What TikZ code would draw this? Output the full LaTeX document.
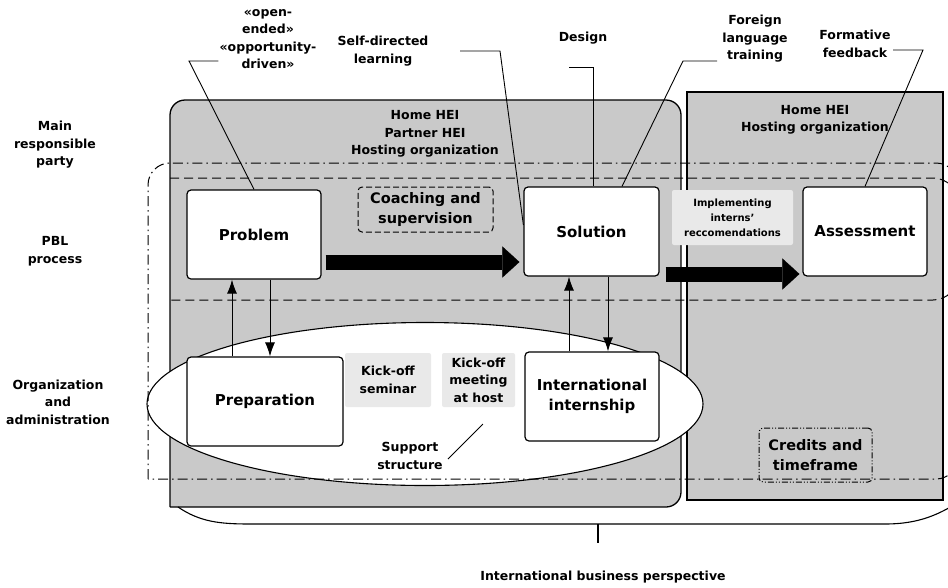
\documentclass[tikz,border=0pt]{standalone}
\usepackage{fontspec}
\setmainfont{DejaVu Sans}
\usetikzlibrary{positioning,calc,arrows.meta,shapes.geometric}
\definecolor{cPanel}{RGB}{201,201,201}
\definecolor{cTag}{RGB}{233,233,233}

\begin{document}
\begin{tikzpicture}[
  x=1pt, y=-1pt,
  font=\fontsize{12.5}{17.5}\selectfont\bfseries,
  panel/.style = {draw, line width=1.3pt, fill=cPanel},
  stage/.style = {draw, line width=1.2pt, fill=white, rounded corners=4pt,
                  align=center, inner sep=2pt,
                  font=\fontsize{15}{20}\selectfont\bfseries},
  tag/.style   = {fill=cTag, rounded corners=2pt, align=center, inner sep=2pt},
  frame/.style = {draw, line width=1pt, rounded corners=4pt, align=center,
                  inner sep=2pt, font=\fontsize{14.5}{20}\selectfont\bfseries},
  lbl/.style   = {align=center, inner sep=1pt},
  lead/.style  = {line width=0.9pt},
  link/.style  = {-{Latex[length=14pt,width=10pt]}, line width=1pt},
  flow/.style  = {-{Triangle[length=17pt,width=31pt,line width=0.1pt]},
                  line width=15pt},
  dashdot/.style = {line width=1pt, dash pattern=on 10pt off 4pt on 1.5pt off 4pt},
  dashreg/.style = {line width=1pt, dash pattern=on 9pt off 5pt}
]
\useasboundingbox (0,0) rectangle (948,587);
\fill[white] (0,0) rectangle (948,587);

% ------------------------------------------------------------ the two panels --
\draw[panel] (170,507) [rounded corners=15pt] -- (170,100) -- (681,100)
  -- (681,507) -- (300,507) [sharp corners] -- (170,507);
\draw[panel] (687,92) rectangle (943,500);

% support structure, under the stages
\node[ellipse, draw, line width=1.1pt, fill=white, minimum width=556pt,
      minimum height=163pt, inner sep=0pt] (supp) at (425,404) {};

% responsibility band (dash-dot) and PBL band (dashed)
\draw[dashdot] (148,479) [rounded corners=22pt] -- (148,163) -- (958,163)
  -- (958,479) -- (148,479);
\draw[dashreg] (170,178) [rounded corners=25pt] -- (958,178) -- (958,300)
  -- (170,300);

% the brace under both panels
\coordinate (bmid) at (598,524);
\draw[line width=1.1pt] (178,507) .. controls (200,522) and (220,524) .. (250,524)
  -- (885,524) .. controls (920,524) and (940,514) .. (962,500);
\node[lbl] (ibp) at (603,577) {International business perspective};
\draw[line width=1.1pt] (bmid) -- (bmid |- 0,543);

% ---------------------------------------------------------------- row labels --
\node[lbl] (party) at (55,145) {Main\\responsible\\party};
\node[lbl] (pbl)   at (55,251) {PBL\\process};
\node[lbl] (admin) at (58,402) {Organization\\and\\administration};

\node[lbl] (hosts1) at (425,134) {Home HEI\\Partner HEI\\Hosting organization};
\node[lbl] (hosts2) at (815,120) {Home HEI\\Hosting organization};

% -------------------------------------------------------------------- stages --
\node[stage, minimum width=134pt, minimum height=89pt] (prob) at (254,234.5) {Problem};
\node[stage, minimum width=135pt, minimum height=89pt] (sol)  at (591.5,231.5) {Solution};
\node[stage, minimum width=124pt, minimum height=89pt] (asm)  at (865,231.5) {Assessment};
\node[stage, minimum width=156pt, minimum height=89pt] (prep) at (265,401.5) {Preparation};
\node[stage, minimum width=134pt, minimum height=89pt] (intern) at (592,396.5) {International\\internship};

\node[frame, dash pattern=on 6pt off 3pt, minimum width=135pt,
      minimum height=45pt] (coach) at (425.5,209.5) {Coaching and\\supervision};
\node[frame, dash pattern=on 6pt off 2pt on 1pt off 2pt on 1pt off 2pt,
      minimum width=113pt, minimum height=54pt] (cred) at (815.5,455) {Credits and\\timeframe};

\node[tag, minimum width=121pt, minimum height=55pt,
      font=\fontsize{10}{15}\selectfont\bfseries] (impl) at (732.5,217.5)
      {Implementing\\interns’\\reccomendations};
\node[tag, minimum width=86pt, minimum height=54pt] (kseminar) at (388,380) {Kick-off\\seminar};
\node[tag, minimum width=73pt, minimum height=54pt] (kmeeting) at (478.5,380) {Kick-off\\meeting\\at host};
\node[lbl] (sup) at (410,456) {Support\\structure};

% -------------------------------------------------------------------- arrows --
\draw[flow, shorten <=4pt, shorten >=4pt] (prob.east |- 0,262) -- (sol.west |- 0,262);
\draw[flow, shorten <=6pt, shorten >=3pt] (sol.east |- 0,274) -- (asm.west |- 0,274);

\draw[link] (prep.north -| 232,0) -- (prob.south -| 232,0);
\draw[link] (prob.south -| 270,0) -- (prep.north -| 270,0);
\draw[link] (intern.north -| 569,0) -- (sol.south -| 569,0);
\draw[link] (sol.south -| 608,0) -- (intern.north -| 608,0);

% ------------------------------------------------------------ leader labels --
\node[lbl] (open)  at (268,39) {«open-\\ended»\\«opportunity-\\driven»};
\node[lbl] (self)  at (383,51) {Self-directed\\learning};
\node[lbl] (dsgn)  at (583,38) {Design};
\node[lbl] (lang)  at (755,39) {Foreign\\language\\training};
\node[lbl] (fback) at (855,44) {Formative\\feedback};

\draw[lead] (open.west |- 0,61) -- (189,61) -- (prob.north);
\draw[lead] (460,51) -- (500,51) -- (sol.west |- 0,225);
\draw[lead] (569,67) -- (593,67) -- (sol.north -| 593,0);
\draw[lead] (717,61) -- (683,61) -- (sol.north -| 622,0);
\draw[lead] (893,50) -- (923,50) -- (asm.north);
\draw[lead] ([xshift=4pt,yshift=-3pt]sup.east) -- ++(35,-35);

\end{tikzpicture}
\end{document}
